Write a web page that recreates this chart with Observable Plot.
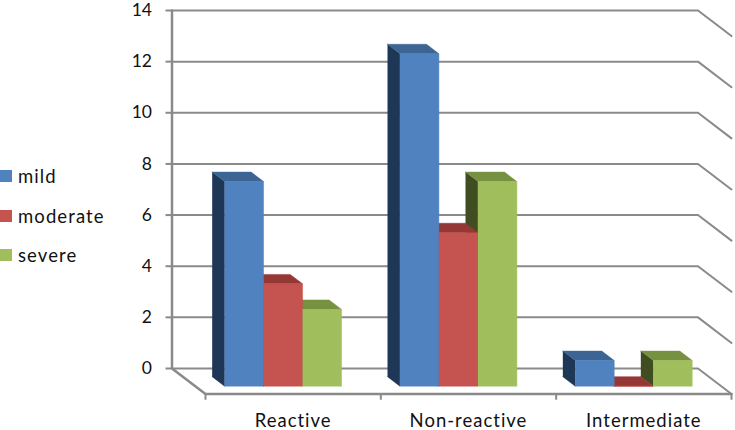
<!DOCTYPE html>
<html>
<head>
<meta charset="utf-8">
<script src="https://cdn.jsdelivr.net/npm/d3@7"></script>
<script src="https://cdn.jsdelivr.net/npm/@observablehq/plot@0.6"></script>
<style>
html,body{margin:0;padding:0;background:#fff;}
#wrap{position:relative;width:735px;height:430px;overflow:hidden;font-family:Lato,sans-serif;color:#111;}
#legend{position:absolute;left:0;top:0;}
.item{position:absolute;left:0;white-space:nowrap;font-size:18.5px;line-height:20px;letter-spacing:1.1px;}
.sw{position:absolute;left:0;top:4px;width:12px;height:12px;}
.lb{position:absolute;left:18px;top:0;}
svg{display:block;}
svg g.cat-labels text{letter-spacing:1px;}
</style>
</head>
<body>
<div id="wrap"><div id="legend"></div></div>
<script>
const categories = ["Reactive", "Non-reactive", "Intermediate"];
const seriesNames = ["mild", "moderate", "severe"];
const mild = [8, 13, 1];
const moderate = [4, 6, 0];
const severe = [3, 8, 1];
const yTicks = [0, 2, 4, 6, 8, 10, 12, 14];
const frontColors = ["#5082c0", "#c5534f", "#a0bf5c"];
const topColors = ["#3c6594", "#953735", "#76913f"];
const sideColors = ["#1f3757", "#632523", "#404d20"];

const series = [mild, moderate, severe];
// oblique projection of a depth d (0 back wall .. 1 front floor edge)
const depthX = 0.191, depthY = 1.0;
const gap = 0.168, barW = 0.2224, backD = 0.32, frontD = 0.69;
const P = (u, v, d) => ({x: u + d * depthX, y: v - d * depthY});

const sides = [], tops = [], fronts = [];
function poly(list, id, fill, pts) { pts.forEach(p => list.push({id, fill, x: p.x, y: p.y})); }
categories.forEach((c, i) => {
  series.forEach((vals, s) => {
    const v = vals[i], l = i + gap + s * barW, r = l + barW, id = c + s;
    poly(sides, "side" + id, sideColors[s], [P(l, v, backD), P(l, v, frontD), P(l, 0, frontD), P(l, 0, backD)]);
    poly(tops, "top" + id, topColors[s], [P(l, v, backD), P(r, v, backD), P(r, v, frontD), P(l, v, frontD)]);
    poly(fronts, "front" + id, frontColors[s], [P(l, v, frontD), P(r, v, frontD), P(r, 0, frontD), P(l, 0, frontD)]);
  });
});
const faces = [...sides, ...tops, ...fronts];

const grid = yTicks.flatMap(t => [
  {t, x: 0, y: t}, {t, x: 3, y: t}, {t, ...P(3, t, 1)}
]);
const wall = [{x: 0, y: 14}, {x: 0, y: 0}, P(0, 0, 1), P(3, 0, 1)];
const gray = "#8a8a8a";

const chart = Plot.plot({
  width: 735, height: 430,
  marginLeft: 171.5, marginRight: 37.5, marginTop: 10, marginBottom: 62,
  style: {fontFamily: "Lato, sans-serif", background: "transparent"},
  x: {domain: [0, 3], axis: null},
  y: {domain: [0, 14]},
  color: {type: "identity"},
  marks: [
    Plot.axisY(yTicks, {
      anchor: "left", label: null, tickSize: 6, tickPadding: 14,
      stroke: gray, strokeWidth: 2, fontSize: 17.5, fill: "#111"
    }),
    Plot.line(grid, {x: "x", y: "y", z: "t", stroke: gray, strokeWidth: 2}),
    Plot.line(wall, {x: "x", y: "y", stroke: gray, strokeWidth: 2.5}),
    Plot.ruleX([0, 1, 2, 3].map(i => P(i, 0, 1)), {
      x: "x", stroke: gray, strokeWidth: 2,
      y1: d => d.y, y2: d => d.y - 0.24
    }),
    Plot.line(faces, {x: "x", y: "y", z: "id", fill: "fill", stroke: "fill", strokeWidth: 0.5}),
    Plot.text(categories, {
      x: (d, i) => P(i + 0.5, 0, 1).x, y: () => P(0, 0, 1).y,
      text: d => d, dy: 27, fontSize: 18.5, fill: "#111", className: "cat-labels"
    })
  ]
});
const wrap = document.getElementById("wrap");
wrap.insertBefore(chart, wrap.firstChild);

const legend = document.getElementById("legend");
const legendTops = [166, 206, 245];
seriesNames.forEach((n, i) => {
  const it = document.createElement("div");
  it.className = "item";
  it.style.top = legendTops[i] + "px";
  it.innerHTML = `<span class="sw" style="background:${frontColors[i]}"></span><span class="lb">${n}</span>`;
  legend.appendChild(it);
});
</script>
</body>
</html>
